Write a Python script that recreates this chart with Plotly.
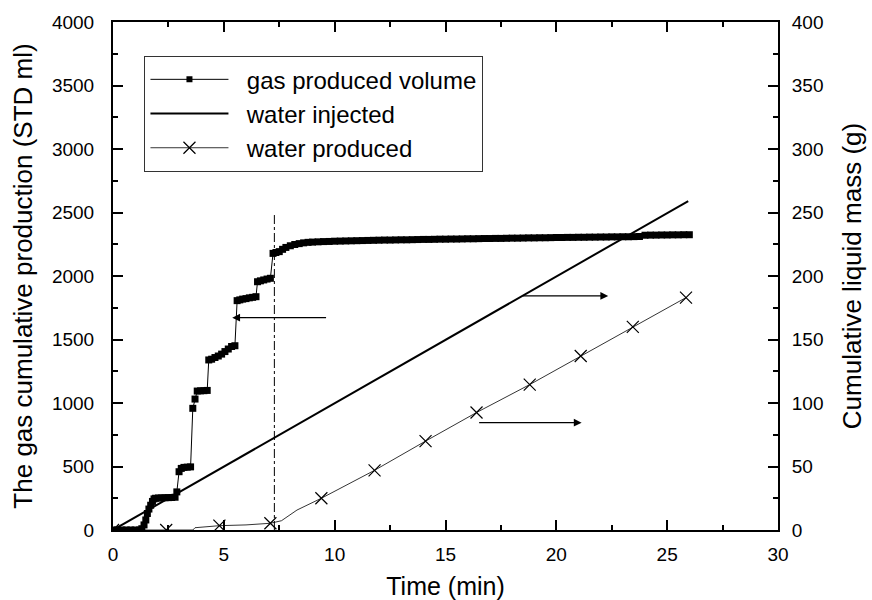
import plotly.graph_objects as go

# ---------------- data ----------------
gas_time = [0, 0.2, 0.4, 0.6, 0.8, 1.0, 1.2, 1.3, 1.4, 1.48, 1.55, 1.62, 1.7, 1.78, 1.85, 1.92,
            2.05, 2.2, 2.35, 2.5, 2.65, 2.8, 2.88, 2.98, 3.08, 3.2, 3.35, 3.5, 3.6, 3.7, 3.8, 3.95,
            4.1, 4.25, 4.32, 4.45, 4.6, 4.75, 4.9, 5.05, 5.2, 5.35, 5.5, 5.6, 5.72, 5.85, 6.0, 6.15,
            6.3, 6.45, 6.52, 6.65, 6.8, 6.95, 7.1, 7.22, 7.35, 7.5, 7.65, 7.8, 8.0, 8.2, 8.4, 8.6,
            8.8, 9.0, 9.25, 9.5, 9.75, 10.0, 10.25, 10.5, 10.75, 11.0, 11.25, 11.5, 11.75, 12.0,
            12.25, 12.5, 12.75, 13.0, 13.25, 13.5, 13.75, 14.0, 14.25, 14.5, 14.75, 15.0, 15.25,
            15.5, 15.75, 16.0, 16.25, 16.5, 16.75, 17.0, 17.25, 17.5, 17.75, 18.0, 18.25, 18.5,
            18.75, 19.0, 19.25, 19.5, 19.75, 20.0, 20.25, 20.5, 20.75, 21.0, 21.25, 21.5, 21.75,
            22.0, 22.25, 22.5, 22.75, 23.0, 23.25, 23.5, 23.75, 24.0, 24.25, 24.5, 24.75, 25.0,
            25.25, 25.5, 25.75, 26.0]
gas_volume = [0, 0, 0, 0, 0, 0, 0, 10, 40, 79, 130, 165, 195, 225, 245, 250,
              252, 253, 254, 255, 256, 258, 300, 459, 485, 493, 495, 497, 958, 1031, 1094, 1096,
              1097, 1099, 1339, 1345, 1358, 1370, 1385, 1405, 1425, 1445, 1451, 1806, 1812, 1818, 1822, 1828,
              1832, 1837, 1955, 1962, 1969, 1976, 1982, 2178, 2185, 2192, 2210, 2225, 2238, 2248, 2255, 2261,
              2265, 2267, 2269, 2271, 2272, 2274, 2275, 2276, 2277, 2278, 2279, 2280, 2281, 2282,
              2283, 2283, 2284, 2285, 2285, 2286, 2287, 2288, 2288, 2289, 2290, 2290, 2291,
              2291, 2292, 2293, 2293, 2294, 2295, 2295, 2296, 2296, 2297, 2298, 2298, 2299,
              2300, 2300, 2301, 2301, 2302, 2303, 2303, 2304, 2304, 2305, 2305, 2306, 2306,
              2307, 2307, 2308, 2308, 2309, 2309, 2310, 2311, 2321, 2322, 2322, 2323, 2323,
              2324, 2324, 2325, 2325]

inj_time = [0, 25.95]
inj_mass = [0, 259]

wp_line_time = [0, 2.4, 3.6, 3.7, 4.8, 6.0, 7.1, 7.6, 8.3, 9.4, 11.8, 14.1, 16.4, 18.8, 21.1, 23.45, 25.85]
wp_line_mass = [0, 0, 0, 1.8, 3.4, 4.0, 5.3, 7.3, 15.7, 25, 47, 70, 92.5, 114.5, 137, 160, 183]
wp_mark_time = [0, 2.4, 4.8, 7.1, 9.4, 11.8, 14.1, 16.4, 18.8, 21.1, 23.45, 25.85]
wp_mark_mass = [0, 0, 3.4, 5.3, 25, 47, 70, 92.5, 114.5, 137, 160, 183]

bt_time = [7.28, 7.28]
bt_volume = [0, 2480]

# arrows: (tail_x, head_x, y, axis)
arrow_tail_x = [9.68, 18.43, 16.45]
arrow_head_x = [5.38, 22.34, 21.14]
arrow_y = [1672, 184.3, 84.5]
arrow_axis = ["y", "y2", "y2"]

x_title = "Time (min)"
y1_title = "The gas cumulative production (STD ml)"
y2_title = "Cumulative liquid mass (g)"
names = ["gas produced volume", "water injected", "water produced"]

FONT = "Arial, Liberation Sans, Arimo, sans-serif"
PAD = "\u00a0\u00a0"

fig = go.Figure()

# gas series
fig.add_trace(go.Scatter(x=gas_time, y=gas_volume, mode="lines+markers",
                         line=dict(color="black", width=1),
                         marker=dict(symbol="square", size=7, color="black"),
                         showlegend=False, yaxis="y"))
# water injected
fig.add_trace(go.Scatter(x=inj_time, y=inj_mass, mode="lines",
                         line=dict(color="black", width=2),
                         showlegend=False, yaxis="y2"))
# water produced line
fig.add_trace(go.Scatter(x=wp_line_time, y=wp_line_mass, mode="lines",
                         line=dict(color="black", width=0.8),
                         showlegend=False, yaxis="y2"))
fig.add_trace(go.Scatter(x=wp_mark_time, y=wp_mark_mass, mode="markers",
                         marker=dict(symbol="x-thin", size=12, color="black",
                                     line=dict(color="black", width=1.2)),
                         showlegend=False, yaxis="y2"))
# breakthrough dash-dot line
fig.add_trace(go.Scatter(x=bt_time, y=bt_volume, mode="lines",
                         line=dict(color="black", width=1, dash="dashdot"),
                         showlegend=False, yaxis="y"))

# legend-only traces
fig.add_trace(go.Scatter(x=[None], y=[None], mode="lines+markers", name=PAD + names[0],
                         line=dict(color="black", width=1),
                         marker=dict(symbol="square", size=6, color="black"), legendgroup="a"))
fig.add_trace(go.Scatter(x=[None], y=[None], mode="lines", name=PAD + names[1],
                         line=dict(color="black", width=2), legendgroup="b"))
fig.add_trace(go.Scatter(x=[None], y=[None], mode="lines+markers", name=PAD + names[2],
                         line=dict(color="black", width=0.8),
                         marker=dict(symbol="x-thin", size=12, color="black",
                                     line=dict(color="black", width=1.2)), legendgroup="c"))

for tx, hx, yy, ax in zip(arrow_tail_x, arrow_head_x, arrow_y, arrow_axis):
    fig.add_annotation(x=hx, y=yy, ax=tx, ay=yy, xref="x", yref=ax, axref="x", ayref=ax,
                       showarrow=True, arrowhead=2, arrowsize=1.3, arrowwidth=1.2,
                       arrowcolor="black", text="")

axis_common = dict(showgrid=False, zeroline=False, showline=True, linecolor="black",
                   linewidth=2, ticks="inside", ticklen=10, tickwidth=1.5, tickcolor="black",
                   automargin=False,
                   tickfont=dict(family=FONT, size=19, color="black"))

fig.update_layout(
    width=872, height=600,
    margin=dict(l=113, r=94, t=22, b=70),
    paper_bgcolor="white", plot_bgcolor="white",
    font=dict(family=FONT, color="black"),
    xaxis=dict(range=[0, 30], dtick=5, tick0=0, mirror="ticks",
               minor=dict(dtick=2.5, ticks="inside", ticklen=5, tickwidth=1.5, tickcolor="black"),
               title=dict(text=x_title, font=dict(family=FONT, size=25), standoff=14),
               ticklabelstandoff=6,
               **axis_common),
    yaxis=dict(range=[0, 4000], dtick=500, tick0=0, mirror=True,
               minor=dict(dtick=250, ticks="inside", ticklen=5, tickwidth=1.5, tickcolor="black"),
               title=dict(text=y1_title, font=dict(family=FONT, size=26), standoff=12),
               ticklabelstandoff=13,
               **axis_common),
    yaxis2=dict(range=[0, 400], dtick=50, tick0=0, overlaying="y", side="right",
                minor=dict(dtick=25, ticks="inside", ticklen=5, tickwidth=1.5, tickcolor="black"),
                title=dict(text=y2_title, font=dict(family=FONT, size=26), standoff=20),
                ticklabelstandoff=8,
                **axis_common),
    legend=dict(x=0.047, y=0.933, xanchor="left", yanchor="top",
                bgcolor="white", bordercolor="#333", borderwidth=1.2,
                font=dict(family=FONT, size=24, color="black"),
                itemwidth=78, tracegroupgap=0, traceorder="grouped"),
    showlegend=True,
)

fig.write_html("out.html")
